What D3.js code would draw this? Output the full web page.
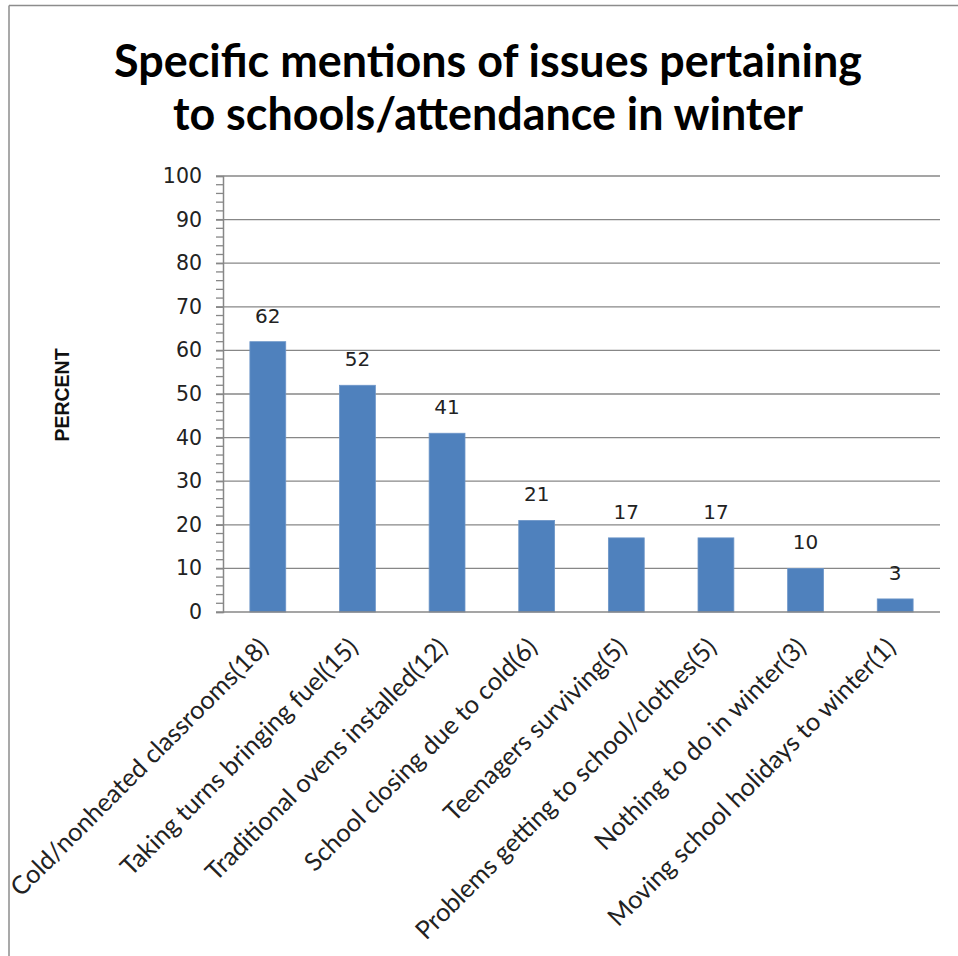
<!DOCTYPE html>
<html>
<head>
<meta charset="utf-8">
<script src="https://cdn.jsdelivr.net/npm/d3@7/dist/d3.min.js"></script>
<style>
  html, body { margin: 0; padding: 0; background: #fff; }
  svg { display: block; }
</style>
</head>
<body>
<svg id="chart" width="958" height="956"></svg>
<script>
const categories = [
  "Cold/nonheated classrooms(18)",
  "Taking turns bringing fuel(15)",
  "Traditional ovens installed(12)",
  "School closing due to cold(6)",
  "Teenagers surviving(5)",
  "Problems getting to school/clothes(5)",
  "Nothing to do in winter(3)",
  "Moving school holidays to winter(1)"
];
const values = [62, 52, 41, 21, 17, 17, 10, 3];
const yTicks = [0, 10, 20, 30, 40, 50, 60, 70, 80, 90, 100];
const titleLines = ["Specific mentions of issues pertaining", "to schools/attendance in winter"];
const yLabel = "PERCENT";

(function () {
const svg = d3.select("#chart");
const W = 958, H = 956;
svg.append("rect").attr("width", W).attr("height", H).attr("fill", "#fff");

// outer border (top and left visible)
svg.append("line").attr("x1", 9).attr("x2", W).attr("y1", 5.5).attr("y2", 5.5)
  .attr("stroke", "#8c8c8c").attr("stroke-width", 1.5);
svg.append("line").attr("x1", 9).attr("x2", 9).attr("y1", 5.5).attr("y2", H)
  .attr("stroke", "#8c8c8c").attr("stroke-width", 1.5);

const pLeft = 223, pRight = 940, pTop = 176, pBottom = 612;
const x = d3.scaleBand().domain(categories).range([pLeft, pRight]).paddingInner(0.6).paddingOuter(0.3);
const y = d3.scaleLinear().domain([0, 100]).range([pBottom, pTop]);

const gridColor = "#878787";

// gridlines
svg.append("g").selectAll("line").data(yTicks.filter(d => d > 0)).join("line")
  .attr("x1", pLeft).attr("x2", pRight)
  .attr("y1", d => y(d)).attr("y2", d => y(d))
  .attr("stroke", gridColor).attr("stroke-width", 1.3);

// y axis with minor ticks
const minor = d3.range(0, 101, 2);
svg.append("g").selectAll("line").data(minor).join("line")
  .attr("x1", pLeft - 7).attr("x2", pLeft)
  .attr("y1", d => y(d)).attr("y2", d => y(d))
  .attr("stroke", gridColor).attr("stroke-width", 1.3);

const yAxis = d3.axisLeft(y).tickValues(yTicks).tickSize(7).tickPadding(14);
const gy = svg.append("g").attr("transform", `translate(${pLeft},0)`).call(yAxis);
gy.select(".domain").attr("stroke", gridColor).attr("stroke-width", 1.5);
gy.selectAll(".tick line").attr("stroke", gridColor).attr("stroke-width", 1.3);
gy.selectAll(".tick text").attr("font-family", "DejaVu Sans, Verdana, sans-serif")
  .attr("font-size", 20.5).attr("fill", "#222");

// bars
svg.append("g").selectAll("rect").data(values).join("rect")
  .attr("x", (d, i) => x(categories[i]))
  .attr("width", x.bandwidth())
  .attr("y", d => y(d))
  .attr("height", d => y(0) - y(d))
  .attr("fill", "#4f81bd")
  .attr("stroke", "#6c95c8").attr("stroke-width", 0.8);

// x axis line
svg.append("line").attr("x1", pLeft).attr("x2", pRight).attr("y1", pBottom).attr("y2", pBottom)
  .attr("stroke", gridColor).attr("stroke-width", 1.5);

// data labels
svg.append("g").selectAll("text").data(values).join("text")
  .attr("x", (d, i) => x(categories[i]) + x.bandwidth() / 2)
  .attr("y", d => y(d) - 19)
  .attr("text-anchor", "middle")
  .attr("font-family", "DejaVu Sans, Verdana, sans-serif")
  .attr("font-size", 20).attr("fill", "#222")
  .text(d => d);

// x labels rotated
const xl = svg.append("g").selectAll("text").data(categories).join("text")
  .attr("transform", d => `translate(${x(d) + x.bandwidth() / 2 + 2},649) rotate(-45)`)
  .attr("text-anchor", "end")
  .attr("font-family", "Lato, Open Sans, sans-serif")
  .attr("font-size", 20).attr("fill", "#222")
  .text(d => d);
const refLen = xl.nodes()[2].getComputedTextLength();
xl.attr("font-size", 20 * 330 / refLen);

// y label
svg.append("text")
  .attr("transform", "translate(69,395) rotate(-90)")
  .attr("text-anchor", "middle")
  .attr("font-family", "Liberation Sans, Arial, sans-serif")
  .attr("font-weight", "bold").attr("font-size", 19.5).attr("fill", "#111")
  .text(yLabel);

// title
const tt = svg.append("g").selectAll("text").data(titleLines).join("text")
  .attr("x", 488).attr("y", (d, i) => 77 + i * 53)
  .attr("text-anchor", "middle")
  .attr("font-family", "Lato, Open Sans, sans-serif")
  .attr("font-weight", "bold").attr("font-size", 40).attr("fill", "#000")
  .text(d => d);
const tLen = tt.nodes()[0].getComputedTextLength();
tt.attr("font-size", 40 * 748 / tLen);
})();
</script>
</body>
</html>
